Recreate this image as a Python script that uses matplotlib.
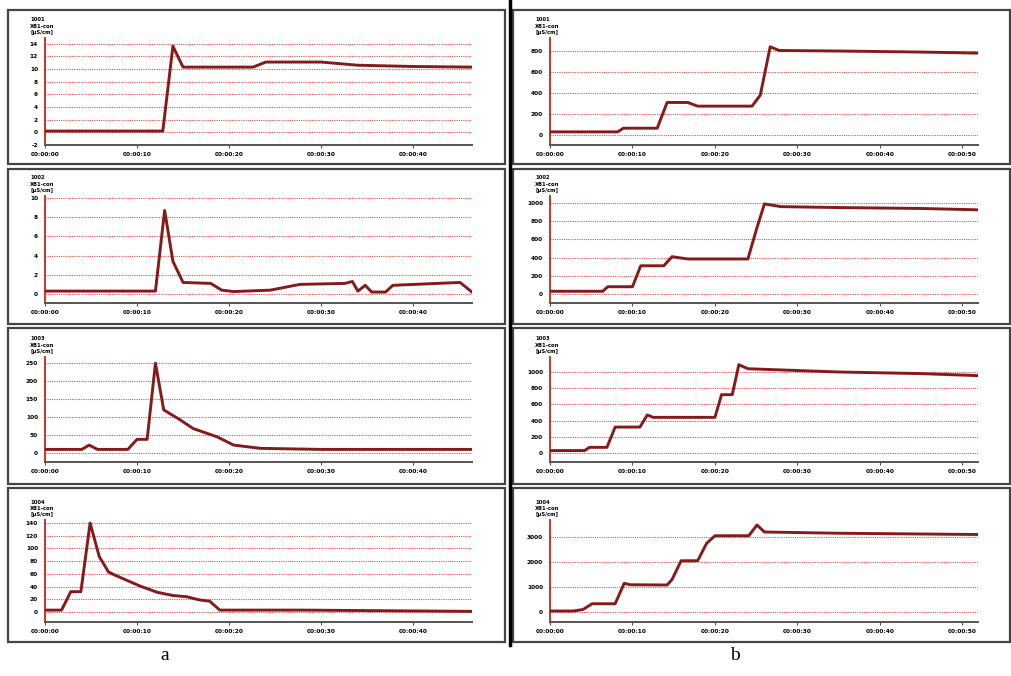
import matplotlib
matplotlib.use("Agg")
import matplotlib.pyplot as plt
from matplotlib.patches import Rectangle
from matplotlib.lines import Line2D

# ---- data ----
# column a
a1_t = [0, 12.8, 13.9, 15.0, 22.6, 24.0, 30.0, 34.0, 40.0, 46.4]
a1_v = [0.2, 0.2, 13.6, 10.3, 10.3, 11.1, 11.1, 10.6, 10.4, 10.3]

a2_t = [0, 12.0, 13.0, 13.9, 15.0, 18.0, 19.2, 20.5, 24.5, 27.7, 32.6, 33.4,
        34.0, 34.8, 35.5, 37.0, 37.8, 45.1, 46.4]
a2_v = [0.3, 0.3, 8.7, 3.4, 1.2, 1.1, 0.4, 0.25, 0.4, 1.0, 1.1, 1.3,
        0.3, 0.9, 0.2, 0.2, 0.9, 1.2, 0.2]

a3_t = [0, 4.0, 4.8, 5.7, 9.0, 10.0, 11.1, 12.0, 12.9, 14.7, 16.1, 18.7, 20.5,
        23.4, 30.0, 46.4]
a3_v = [10, 10, 22, 10, 10, 38, 38, 250, 120, 92, 68, 45, 22, 13, 10, 10]

a4_t = [0, 1.8, 2.8, 3.9, 4.9, 5.9, 6.9, 7.6, 10.3, 12.2, 13.9, 15.4, 16.8,
        17.9, 19.0, 28.0, 46.4]
a4_v = [3, 3, 32, 32, 140, 87, 63, 58, 41, 31, 26, 24, 19, 17, 3, 3, 1]

# column b
b1_t = [0, 8.2, 8.9, 13.0, 14.2, 16.7, 17.9, 24.5, 25.5, 26.7, 27.8, 35, 45, 51.9]
b1_v = [30, 30, 65, 65, 310, 310, 275, 275, 380, 840, 805, 800, 790, 780]

b2_t = [0, 6.4, 7.0, 10.0, 11.0, 13.8, 14.8, 16.7, 24.0, 25.0, 26.0, 28.0,
        35, 45, 51.9]
b2_v = [30, 30, 80, 80, 310, 310, 410, 385, 385, 700, 990, 960, 950, 940, 925]

b3_t = [0, 4.2, 4.8, 6.9, 7.9, 10.9, 11.8, 12.5, 20.0, 20.8, 22.1, 22.9, 24.0,
        35, 45, 51.9]
b3_v = [30, 30, 70, 70, 320, 320, 470, 440, 440, 720, 720, 1090, 1040,
        1000, 980, 955]

b4_t = [0, 2.8, 4.0, 5.1, 7.9, 9.0, 9.7, 14.2, 14.8, 15.9, 17.9, 19.0, 20.0,
        24.1, 25.1, 26.0, 35, 51.9]
b4_v = [40, 40, 100, 330, 330, 1150, 1090, 1080, 1300, 2050, 2050, 2750, 3050,
        3050, 3480, 3200, 3150, 3100]

sensors = ["1001", "1002", "1003", "1004"]

a_yticks = [list(range(-2, 15, 2)), list(range(0, 11, 2)),
            list(range(0, 251, 50)), list(range(0, 141, 20))]
b_yticks = [list(range(0, 801, 200)), list(range(0, 1001, 200)),
            list(range(0, 1001, 200)), list(range(0, 3001, 1000))]
a_ylims = [(-2, 14.9), (-0.94, 10.2), (-25, 267), (-15.7, 144.7)]
b_ylims = [(-95, 924), (-99, 1077), (-111, 1185), (-400, 3680)]

a_xticks = [0, 10, 20, 30, 40]
b_xticks = [0, 10, 20, 30, 40, 50]
a_xlabels = ["00:00:00", "00:00:10", "00:00:20", "00:00:30", "00:00:40"]
b_xlabels = a_xlabels + ["00:00:50"]

W, H = 1011, 676
LINE = "#851a1a"
GRID = "#d9534f"


def px_rect(x0, y0, x1, y1):
    return [x0 / W, 1 - y1 / H, (x1 - x0) / W, (y1 - y0) / H]


def panel(fig, rect, t, v, yticks, ylim, xticks, xlabels, xmax, name):
    ax = fig.add_axes(rect)
    ax.plot(t, v, color=LINE, linewidth=2.1, solid_joinstyle="round", zorder=3)
    ax.set_xlim(0, xmax)
    ax.set_ylim(*ylim)
    ax.set_yticks(yticks)
    ax.set_yticklabels([str(y) for y in yticks], fontsize=4.2, fontweight="bold")
    ax.set_xticks(xticks)
    ax.set_xticklabels(xlabels, fontsize=4.2, fontweight="bold")
    ax.yaxis.grid(True, color=GRID, linestyle=(0, (1, 1)), linewidth=0.8)
    ax.set_axisbelow(True)
    for s in ["top", "right"]:
        ax.spines[s].set_visible(False)
    ax.spines["left"].set_color("#c0392b")
    ax.spines["left"].set_linewidth(1.4)
    ax.spines["bottom"].set_color("#555555")
    ax.spines["bottom"].set_linewidth(1.4)
    ax.tick_params(axis="y", length=0, pad=5)
    ax.tick_params(axis="x", length=2, pad=3, color="#555555")
    ax.patch.set_alpha(0)
    ax.text(-0.035, 1.03, name + "\nXB1-con\n[µS/cm]", transform=ax.transAxes,
            fontsize=3.8, fontweight="bold", va="bottom", ha="left",
            linespacing=1.3)
    return ax


def main():
    fig = plt.figure(figsize=(W / 100, H / 100), dpi=100, facecolor="w")

    frames = [(10, 164), (169, 324), (328, 484), (488, 642)]
    axes_y = [(38, 145), (196, 303), (357, 462), (520, 622)]
    a_data = [(a1_t, a1_v), (a2_t, a2_v), (a3_t, a3_v), (a4_t, a4_v)]
    b_data = [(b1_t, b1_v), (b2_t, b2_v), (b3_t, b3_v), (b4_t, b4_v)]

    for i in range(4):
        fy0, fy1 = frames[i]
        fig.patches.append(Rectangle((8 / W, 1 - fy1 / H), (505 - 8) / W,
                                     (fy1 - fy0) / H, transform=fig.transFigure,
                                     fill=False, edgecolor="#444444", linewidth=1.6))
        fig.patches.append(Rectangle((513 / W, 1 - fy1 / H), (1010 - 513) / W,
                                     (fy1 - fy0) / H, transform=fig.transFigure,
                                     fill=False, edgecolor="#444444", linewidth=1.6))
        y0, y1 = axes_y[i]
        t, v = a_data[i]
        panel(fig, px_rect(45, y0, 472, y1), t, v, a_yticks[i], a_ylims[i],
              a_xticks, a_xlabels, 46.4, sensors[i])
        t, v = b_data[i]
        panel(fig, px_rect(550, y0, 978, y1), t, v, b_yticks[i], b_ylims[i],
              b_xticks, b_xlabels, 51.9, sensors[i])

    # column divider
    fig.lines.append(Line2D([510 / W, 510 / W], [1 - 645 / H, 1.0],
                            transform=fig.transFigure, color="black", linewidth=2.5))

    fig.text(165 / W, 1 - 656 / H, "a", fontsize=14, family="Liberation Serif",
             ha="center", va="center")
    fig.text(735 / W, 1 - 656 / H, "b", fontsize=14, family="Liberation Serif",
             ha="center", va="center")

    fig.savefig("out.png", dpi=100)
    plt.close(fig)


if __name__ == "__main__":
    main()
